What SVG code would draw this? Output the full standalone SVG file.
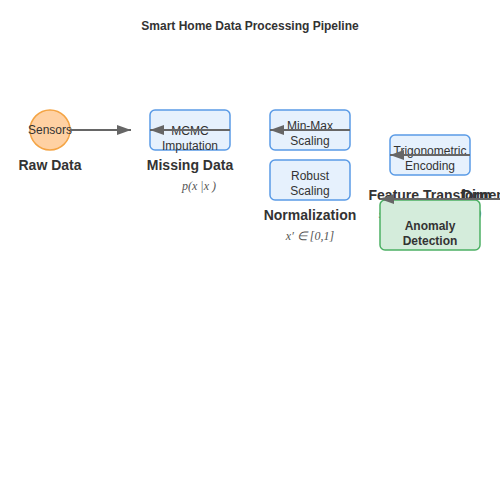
<svg xmlns="http://www.w3.org/2000/svg" width="500" height="500" viewBox="0 0 500 500">
<defs>
<marker id="arr" markerWidth="14" markerHeight="10" refX="14" refY="5" orient="auto" markerUnits="userSpaceOnUse">
<path d="M0,0 L14,5 L0,10 Z" fill="#666"/>
</marker>
<style>
.box{fill:#e6f1fd;stroke:#5a9be6;stroke-width:1.5}
.green{fill:#d4ecdb;stroke:#4cb064;stroke-width:1.5}
.t{font-family:"Liberation Sans",Arial,sans-serif;font-size:12px;fill:#333;text-anchor:middle}
.b{font-family:"Liberation Sans",Arial,sans-serif;font-size:12px;font-weight:bold;fill:#333;text-anchor:middle}
.lab{font-family:"Liberation Sans",Arial,sans-serif;font-size:14px;font-weight:bold;fill:#333;text-anchor:middle}
.m{font-family:"Liberation Serif","Times New Roman",serif;font-size:12px;font-style:italic;fill:#555;text-anchor:middle}
.c{stroke:#666;stroke-width:2;fill:none}
</style>
</defs>
<rect width="500" height="500" fill="#fff"/>
<text class="b" x="250" y="30">Smart Home Data Processing Pipeline</text>

<g id="raw">
<circle cx="50" cy="130" r="20" fill="#ffd1a3" stroke="#f4a444" stroke-width="1.5"/>
<text class="t" x="50" y="134">Sensors</text>
<text class="lab" x="50" y="170">Raw Data</text>
</g>

<g id="missing">
<rect class="box" x="150" y="110" width="80" height="40" rx="5"/>
<text class="t" x="190" y="135">MCMC</text>
<text class="t" x="190" y="150">Imputation</text>
<text class="lab" x="190" y="170">Missing Data</text>
<text class="m" x="199" y="190">p(x |x )</text>
</g>

<g id="normalization">
<rect class="box" x="270" y="110" width="80" height="40" rx="5"/>
<text class="t" x="310" y="130">Min-Max</text>
<text class="t" x="310" y="145">Scaling</text>
<rect class="box" x="270" y="160" width="80" height="40" rx="5"/>
<text class="t" x="310" y="180">Robust</text>
<text class="t" x="310" y="195">Scaling</text>
<text class="lab" x="310" y="220">Normalization</text>
<text class="m" x="310" y="240">x′ ∈ [0,1]</text>
</g>

<g id="feature">
<rect class="box" x="390" y="135" width="80" height="40" rx="5"/>
<text class="t" x="430" y="155">Trigonometric</text>
<text class="t" x="430" y="170">Encoding</text>
<text class="lab" x="430" y="200">Feature Transform</text>
<text class="m" x="430" y="218">sin(2πt/T), cos(2πt/T)</text>
</g>

<g id="dimred">
<text class="lab" x="462" y="200" style="text-anchor:start">Dimensionality Reduction</text>
</g>

<g id="anomaly">
<rect class="green" x="380" y="200" width="100" height="50" rx="5"/>
<text class="b" x="430" y="230">Anomaly</text>
<text class="b" x="430" y="245">Detection</text>
</g>

<g id="connectors">
<line class="c" x1="70" y1="130" x2="131" y2="130" marker-end="url(#arr)"/>
<line class="c" x1="230" y1="130" x2="150" y2="130" marker-end="url(#arr)"/>
<line class="c" x1="350" y1="130" x2="270" y2="130" marker-end="url(#arr)"/>
<line class="c" x1="470" y1="155" x2="390" y2="155" marker-end="url(#arr)"/>
<line class="c" x1="520" y1="199" x2="380" y2="199" marker-end="url(#arr)"/>
</g>
</svg>
